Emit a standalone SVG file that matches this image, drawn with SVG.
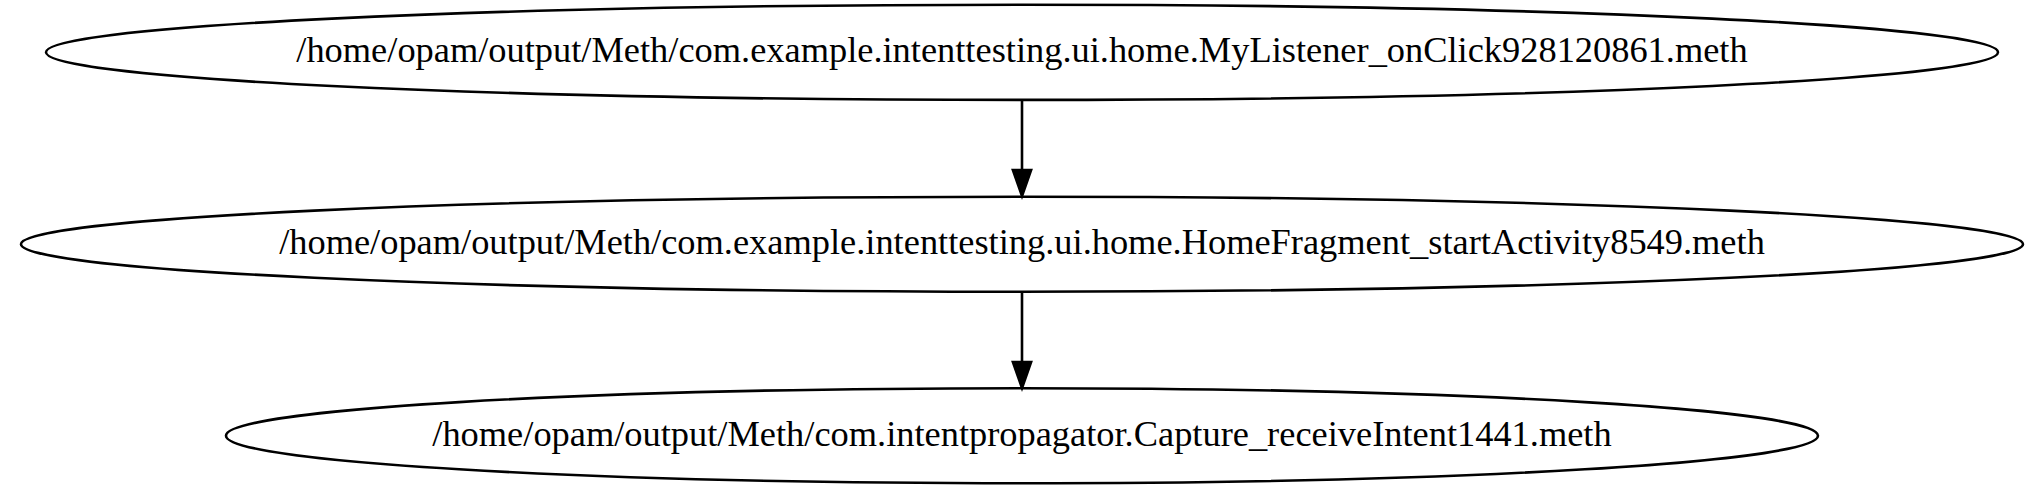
<svg xmlns="http://www.w3.org/2000/svg" width="2037" height="491" viewBox="0 0 2037 491">
<style>
.node ellipse{fill:none;stroke:#000;stroke-width:2.6}
.node text{font-family:"Liberation Serif","Times New Roman",serif;font-size:36.4px;fill:#000;text-anchor:middle}
.edge line{stroke:#000;stroke-width:2.6}
.edge polygon{fill:#000;stroke:#000;stroke-width:2.6}
</style>
<rect width="2037" height="491" fill="#fff"/>
<g id="n1" class="node">
<ellipse cx="1022" cy="52.3" rx="976" ry="47.6"/>
<text x="1022" y="62">/home/opam/output/Meth/com.example.intenttesting.ui.home.MyListener_onClick928120861.meth</text>
</g>
<g id="n2" class="node">
<ellipse cx="1022" cy="244.2" rx="1001" ry="47.5"/>
<text x="1022" y="254">/home/opam/output/Meth/com.example.intenttesting.ui.home.HomeFragment_startActivity8549.meth</text>
</g>
<g id="n3" class="node">
<ellipse cx="1022" cy="435.7" rx="796" ry="47.5"/>
<text x="1022" y="445.5">/home/opam/output/Meth/com.intentpropagator.Capture_receiveIntent1441.meth</text>
</g>
<g id="edges" class="edge">
<line x1="1022" y1="100" x2="1022" y2="170"/>
<polygon points="1012.9,170 1031.1,170 1022,196"/>
<line x1="1022" y1="292" x2="1022" y2="362"/>
<polygon points="1012.9,362 1031.1,362 1022,388"/>
</g>
</svg>
